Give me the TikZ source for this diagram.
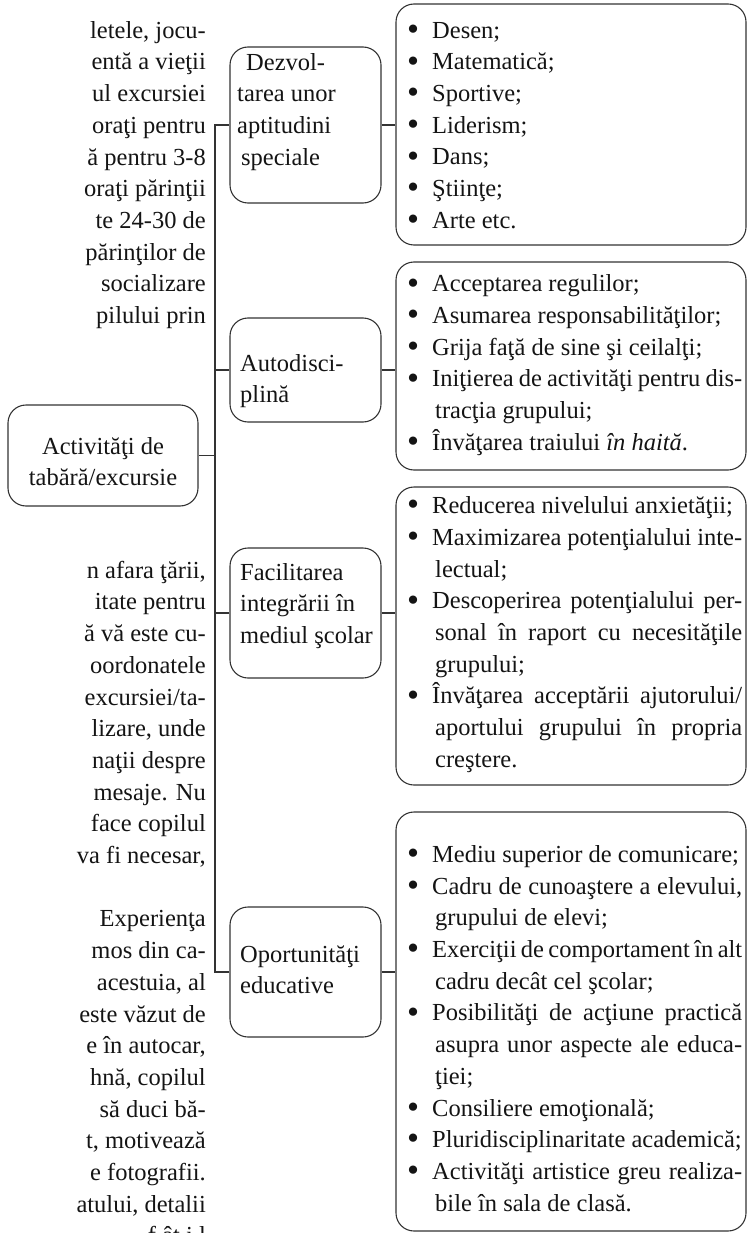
\documentclass[tikz,border=0pt]{standalone}
\usepackage{fontspec}
\usepackage{graphicx}
\setmainfont{Liberation Serif}
% list helpers
\newcommand\bul{\makebox[25pt][l]{\raisebox{-2.2pt}{\scalebox{1.4}{\textbullet}}}}
\newcommand\contl{\hspace*{28pt}}
\newcommand\justline[1]{\makebox[310pt][s]{#1}}
\newcommand\justcont[1]{\makebox[307pt][s]{#1}}
\newcommand\mystrut{\rule{0pt}{24pt}}
\begin{document}
\begin{tikzpicture}[x=1pt,y=-1pt,
  ink/.style={draw=black!80, line width=1.1pt},
  rbox/.style={ink, rounded corners=18pt, inner sep=0pt},
  txt/.style={inner sep=0pt, font=\fontsize{24.5}{31.7}\selectfont, text=black!92},
]
\useasboundingbox (0,0) rectangle (748,1233);

% running text of the page, left column
\node[txt, anchor=north east, align=right] (bodyA) at (206,14) {\mystrut letele, jocu-\\entă a vieţii\\ul excursiei\\oraţi pentru\\ă pentru 3-8\\oraţi părinţii\\te 24-30 de\\părinţilor de\\socializare\\pilului prin};
\node[txt, anchor=north east, align=right] (bodyB) at (206,554) {\mystrut n afara ţării,\\itate pentru\\ă vă este cu-\\oordonatele\\excursiei/ta-\\lizare, unde\\naţii despre\\mesaje. Nu\\face copilul\\va fi necesar,\\\mbox{}\\Experienţa\\mos din ca-\\acestuia, al\\este văzut de\\e în autocar,\\hnă, copilul\\să duci bă-\\t, motivează\\e fotografii.\\atului, detalii\\f ât i l};

% root
\node[rbox, minimum width=190pt, minimum height=101pt] (root) at (103,455.5) {};
\node[txt, anchor=north, align=center] (rootT) at (103,430) {\mystrut Activităţi de\\tabără/excursie};

% trunk
\coordinate (trunk) at (215,0);

% categories
\node[rbox, minimum width=151pt, minimum height=156pt] (dezv) at (305.5,125) {};
\node[rbox, minimum width=151pt, minimum height=104pt] (auto) at (305.5,370) {};
\node[rbox, minimum width=151pt, minimum height=130pt] (faci) at (305.5,613) {};
\node[rbox, minimum width=151pt, minimum height=130pt] (opor) at (305.5,972) {};

\node[txt, anchor=north west, align=left] (dezvT) at (237,46) {\mystrut\hspace*{9pt}Dezvol-\\tarea unor\\aptitudini\\\hspace*{4pt}speciale};
\node[txt, anchor=north west, align=left] (autoT) at (240,347) {\mystrut Autodisci-\\plină};
\node[txt, anchor=north west, align=left] (faciT) at (240,556) {\mystrut Facilitarea\\integrării în\\mediul şcolar};
\node[txt, anchor=north west, align=left] (oporT) at (240,938) {\mystrut Oportunităţi\\educative};

% detail boxes
\node[rbox, minimum width=350pt, minimum height=241pt] (r1) at (571,124.5) {};
\node[rbox, minimum width=350pt, minimum height=208pt] (r2) at (571,366) {};
\node[rbox, minimum width=350pt, minimum height=298pt] (r3) at (571,636) {};
\node[rbox, minimum width=350pt, minimum height=419pt] (r4) at (571,1021.5) {};

\node[txt, anchor=north west, align=left] (r1T) at (407,14) {\mystrut\bul Desen;\\\bul Matematică;\\\bul Sportive;\\\bul Liderism;\\\bul Dans;\\\bul Ştiinţe;\\\bul Arte etc.};
\node[txt, anchor=north west, align=left] (r2T) at (407,267.6) {\mystrut\bul Acceptarea regulilor;\\\bul Asumarea responsabilităţilor;\\\bul Grija faţă de sine şi ceilalţi;\\\bul\justline{Iniţierea de activităţi pentru dis-}\\\contl tracţia grupului;\\\bul Învăţarea traiului \textit{în haită}.};
\node[txt, anchor=north west, align=left] (r3T) at (407,489.5) {\mystrut\bul Reducerea nivelului anxietăţii;\\\bul\justline{Maximizarea potenţialului inte-}\\\contl lectual;\\\bul\justline{Descoperirea potenţialului per-}\\\contl\justcont{sonal în raport cu necesităţile}\\\contl grupului;\\\bul\justline{Învăţarea acceptării ajutorului/}\\\contl\justcont{aportului grupului în propria}\\\contl creştere.};
\node[txt, anchor=north west, align=left] (r4T) at (407,838.2) {\mystrut\bul Mediu superior de comunicare;\\\bul\justline{Cadru de cunoaştere a elevului,}\\\contl grupului de elevi;\\\bul\justline{Exerciţii de comportament în alt}\\\contl cadru decât cel şcolar;\\\bul\justline{Posibilităţi de acţiune practică}\\\contl\justcont{asupra unor aspecte ale educa-}\\\contl ţiei;\\\bul Consiliere emoţională;\\\bul Pluridisciplinaritate academică;\\\bul\justline{Activităţi artistice greu realiza-}\\\contl bile în sala de clasă.};

% connectors
\draw[ink] (root.east) -- (root.east -| trunk);
\draw[ink] (dezv.west) -- (dezv.west -| trunk) -- (opor.west -| trunk) -- (opor.west);
\draw[ink] (auto.west) -- (auto.west -| trunk);
\draw[ink] (faci.west) -- (faci.west -| trunk);
\draw[ink] (dezv.east) -- (dezv.east -| r1.west);
\draw[ink] (auto.east) -- (auto.east -| r2.west);
\draw[ink] (faci.east) -- (faci.east -| r3.west);
\draw[ink] (opor.east) -- (opor.east -| r4.west);
\end{tikzpicture}
\end{document}
